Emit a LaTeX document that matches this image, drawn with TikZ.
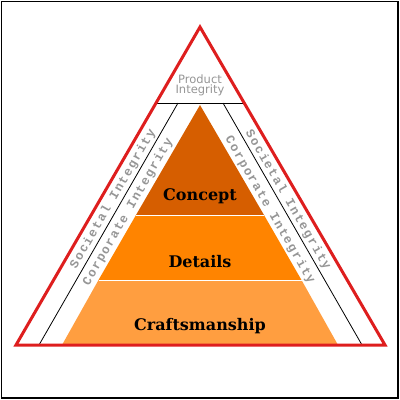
\documentclass[tikz,border=0pt]{standalone}
\usepackage{fontspec}
\newfontfamily\labelfont{DejaVu Serif}
\newfontfamily\prodfont{DejaVu Sans}
\newfontfamily\bandfont[LetterSpace=12]{Liberation Mono}
\definecolor{redline}{RGB}{222,30,30}
\definecolor{conceptc}{RGB}{214,94,0}
\definecolor{detailsc}{RGB}{255,132,0}
\definecolor{craftc}{RGB}{255,158,64}
\definecolor{graytext}{RGB}{150,150,150}
\tikzset{
  mainlabel/.style={font=\labelfont\bfseries\fontsize{16}{18}\selectfont, text=black, inner sep=0pt, anchor=base},
  bandlabel/.style={font=\bandfont\bfseries\fontsize{12.5}{14}\selectfont, text=graytext, inner sep=0pt},
  prodlabel/.style={font=\prodfont\fontsize{11.5}{11}\selectfont, text=graytext, inner sep=0pt, align=center},
  thinline/.style={draw=black, line width=0.8pt},
  sepline/.style={draw=white, line width=1pt}
}
\begin{document}
\begin{tikzpicture}[x=1pt,y=-1pt]
\useasboundingbox (0,0) rectangle (400,400);
\fill[white] (0,0) rectangle (400,400);
\draw[black, line width=1.3pt] (1.5,1.5) rectangle (398,398);
% outer triangle corners
\coordinate (apex) at (200,27);
\coordinate (bl) at (16,345);
\coordinate (br) at (385,345);
% separator under Product Integrity
\coordinate (hl) at (156,103);
\coordinate (hr) at (244,103);
% black inner lines
\coordinate (kl) at (178,103);
\coordinate (kr) at (223,103);
\coordinate (klb) at (39,345);
\coordinate (krb) at (362,345);
% orange pyramid
\coordinate (oa) at (200,105);
\coordinate (obl) at (62,345);
\coordinate (obr) at (338,345);
\coordinate (c1l) at (136,215);
\coordinate (c1r) at (264,215);
\coordinate (c2l) at (98.5,280);
\coordinate (c2r) at (301.5,280);
% fills
\fill[white] (apex) -- (bl) -- (br) -- cycle;
\fill[craftc] (obl) -- (obr) -- (c2r) -- (c2l) -- cycle;
\fill[detailsc] (c2l) -- (c2r) -- (c1r) -- (c1l) -- cycle;
\fill[conceptc] (c1l) -- (c1r) -- (oa) -- cycle;
\draw[sepline] (c1l) -- (c1r);
\draw[sepline] (c2l) -- (c2r);
% lines
\draw[thinline] (hl) -- (hr);
\draw[thinline] (kl) -- (klb);
\draw[thinline] (kr) -- (krb);
\draw[redline, line width=3pt, line join=miter] (apex) -- (bl) -- (br) -- cycle;
% labels
\node[mainlabel] (concept) at (200,200) {Concept};
\node[mainlabel] (details) at (200,267) {Details};
\node[mainlabel] (craft) at (200,330) {Craftsmanship};
\node[prodlabel] (product) at (200,85) {Product\\[-1pt]Integrity};
\node[bandlabel, rotate=60] (socl) at (113,199) {Societal Integrity};
\node[bandlabel, rotate=60] (corpl) at (128,212) {Corporate Integrity};
\node[bandlabel, rotate=-60] (socr) at (288,200) {Societal Integrity};
\node[bandlabel, rotate=-60] (corpr) at (270,210) {Corporate Integrity};
\end{tikzpicture}
\end{document}
